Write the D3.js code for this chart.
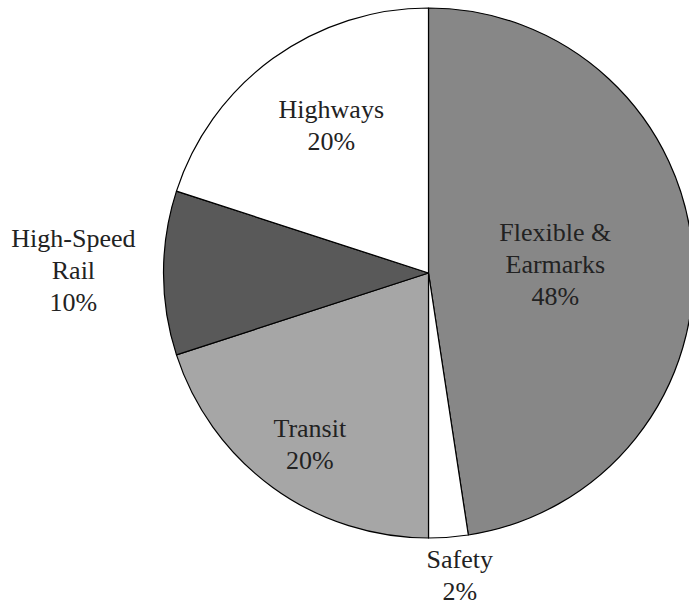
<!DOCTYPE html>
<html>
<head>
<meta charset="utf-8">
<script src="https://cdn.jsdelivr.net/npm/d3@7"></script>
<style>
  html, body { margin: 0; padding: 0; background: #fff; }
  svg { display: block; }
</style>
</head>
<body>
<svg id="chart" width="689" height="608"></svg>
<script>
const categories = ["Flexible & Earmarks", "Safety", "Transit", "High-Speed Rail", "Highways"];
const values = [47.6, 2.4, 20, 10, 20];
const percentLabels = ["48%", "2%", "20%", "10%", "20%"];
const labelLines = [["Flexible &", "Earmarks"], ["Safety"], ["Transit"], ["High-Speed", "Rail"], ["Highways"]];
const colors = ["#878787", "#ffffff", "#a6a6a6", "#595959", "#ffffff"];
const labelRadiusFactor = [0.48, 1.145, 0.785, 1.34, 0.67];
const labelAngleShift = [0, -1.6, -1.2, 0.5, 2.8];

const svg = d3.select("#chart");
const cx = 428.5, cy = 273, r = 265;
const g = svg.append("g").attr("transform", `translate(${cx},${cy})`);

const pie = d3.pie().sort(null).value(d => d)(values);
const arc = d3.arc().innerRadius(0).outerRadius(r);

g.selectAll("path.slice")
  .data(pie)
  .join("path")
  .attr("class", "slice")
  .attr("d", arc)
  .attr("fill", (d, i) => colors[i])
  .attr("stroke", "#000")
  .attr("stroke-width", 1.2)
  .attr("stroke-linejoin", "round");

const lineH = 32;
pie.forEach((d, i) => {
  const a = (d.startAngle + d.endAngle) / 2 + labelAngleShift[i] * Math.PI / 180;
  const lr = r * labelRadiusFactor[i];
  const x = Math.sin(a) * lr;
  const y = -Math.cos(a) * lr;
  const lines = labelLines[i].concat([percentLabels[i]]);
  const n = lines.length;
  const t = g.append("text")
    .attr("text-anchor", "middle")
    .attr("font-family", "'Liberation Serif', 'Times New Roman', Times, serif")
    .attr("font-size", 26)
    .attr("fill", "#222");
  lines.forEach((ln, k) => {
    t.append("tspan")
      .attr("x", x)
      .attr("y", y + (k - (n - 1) / 2) * lineH)
      .attr("dy", "0.35em")
      .text(ln);
  });
});
</script>
</body>
</html>
